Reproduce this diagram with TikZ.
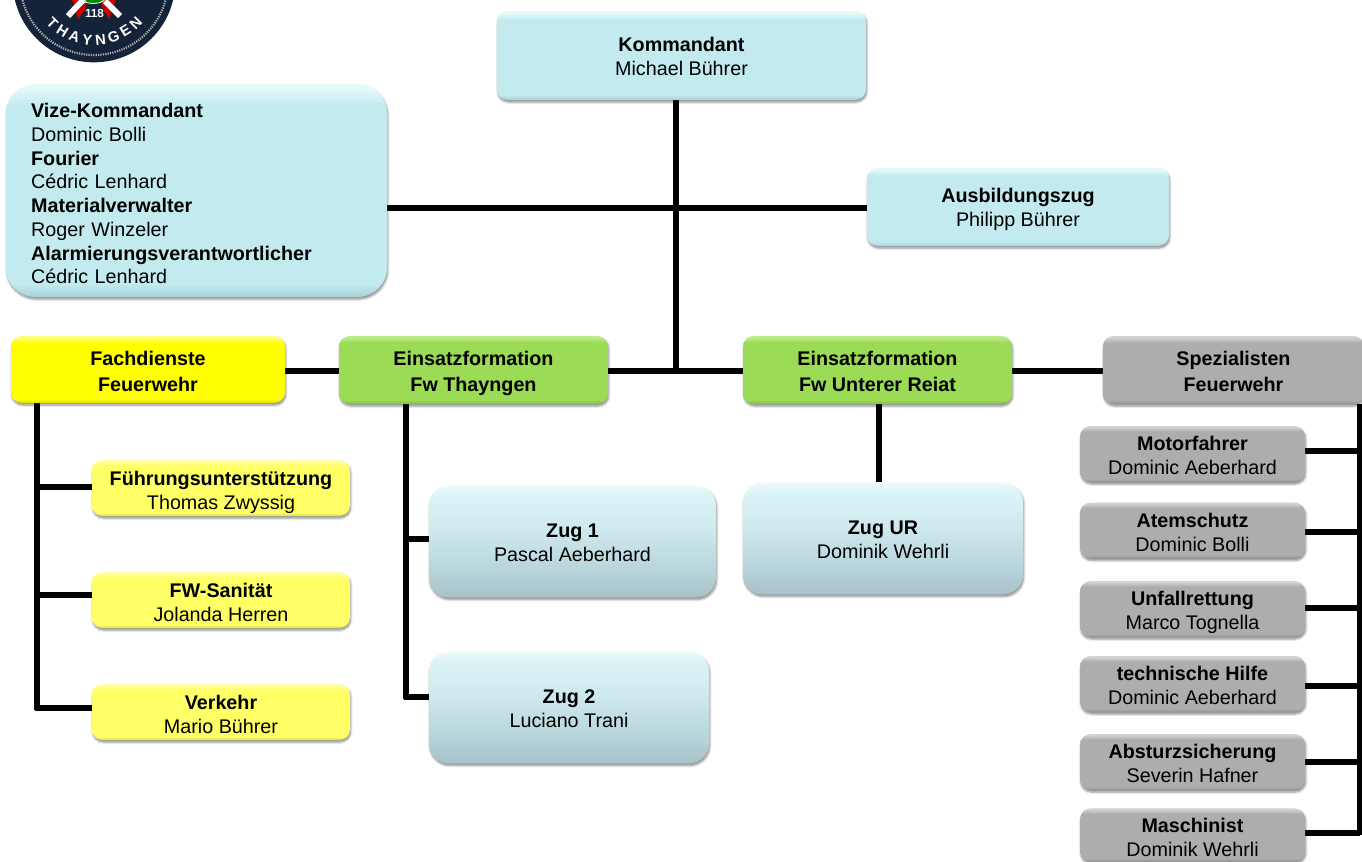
\documentclass[tikz,border=0pt]{standalone}
\usepackage{fontspec}
\setmainfont{Liberation Sans}
\usetikzlibrary{shadows.blur,backgrounds}
\definecolor{teal}{HTML}{C3EBEF}
\definecolor{teallt}{HTML}{E6F9FA}
\definecolor{tealdk}{HTML}{A9CFD4}
\definecolor{yel}{HTML}{FFFF00}
\definecolor{yellt}{HTML}{FFFF80}
\definecolor{yeldk}{HTML}{DADA00}
\definecolor{ylw}{HTML}{FFFF66}
\definecolor{ylwlt}{HTML}{FFFFA8}
\definecolor{ylwdk}{HTML}{DADA55}
\definecolor{grn}{HTML}{9BDB55}
\definecolor{grnlt}{HTML}{BDEB8A}
\definecolor{grndk}{HTML}{82BE45}
\definecolor{gry}{HTML}{ADADAD}
\definecolor{grylt}{HTML}{D2D2D2}
\definecolor{grydk}{HTML}{939393}
\definecolor{logodark}{HTML}{15233A}
\definecolor{zuga}{HTML}{A6C2C8}
\definecolor{zugb}{HTML}{B6D3D9}
\definecolor{zugc}{HTML}{CDE9ED}
\definecolor{zugd}{HTML}{DCF4F7}
\definecolor{zuge}{HTML}{EEFBFC}
\newcommand{\mkglossy}[4]{\pgfdeclareverticalshading{#1}{100bp}{color(0bp)=(#4); color(25bp)=(#4); color(28bp)=(#2); color(70bp)=(#2); color(74bp)=(#3); color(75bp)=(#3); color(100bp)=(#3)}}
\mkglossy{gteal}{teal}{teallt}{tealdk}
\mkglossy{gyel}{yel}{yellt}{yeldk}
\mkglossy{gylw}{ylw}{ylwlt}{ylwdk}
\mkglossy{ggrn}{grn}{grnlt}{grndk}
\mkglossy{ggry}{gry}{grylt}{grydk}
\pgfdeclareverticalshading{gzug}{100bp}{color(0bp)=(zuga); color(25bp)=(zuga); color(36bp)=(zugb); color(55bp)=(zugc); color(71bp)=(zugd); color(75bp)=(zuge); color(100bp)=(zuge)}
% pushes the text of a node down by #1 pt, the box stays where it is
\newcommand{\dn}[1]{\rule{0pt}{\dimexpr 11pt+#1pt*2\relax}}
\tikzset{
  box/.style={rectangle,rounded corners=8pt,inner sep=0pt,align=center,text=black,
    font=\fontsize{14.8}{18}\selectfont,
    blur shadow={shadow xshift=0.6pt,shadow yshift=-1.6pt,shadow blur steps=5,shadow blur radius=1.6pt,shadow opacity=45}},
  tealbox/.style={box,shading=gteal},
  yelbox/.style={box,shading=gyel,font=\fontsize{14.8}{19.5}\selectfont},
  ylwbox/.style={box,shading=gylw},
  grnbox/.style={box,shading=ggrn,font=\fontsize{14.8}{19.5}\selectfont},
  grybox/.style={box,shading=ggry},
  zugbox/.style={box,shading=gzug,rounded corners=15pt},
  wire/.style={line width=4.2pt,black},
  logoletter/.style={text=white,inner sep=0pt,font=\bfseries\fontsize{11}{12}\selectfont},
}
\begin{document}
\begin{tikzpicture}[x=0.75pt,y=-0.75pt]
\useasboundingbox (0,0) rectangle (1362,861);
% logo
\begin{scope}
\clip (0,0) rectangle (1362,861);
\fill[logodark] (94,-19) circle [radius=61pt];
\draw[gray!60,line width=1.6pt,dash pattern=on 0.9pt off 0.9pt] (94,-19) circle [radius=55.5pt];
\fill[red!80!black] (72,0) -- (75,10) -- (78,19) -- (84,11) -- (88,0) -- cycle;
\fill[red!80!black] (116,0) -- (112,10) -- (109,19) -- (104,11) -- (100,0) -- cycle;
\draw[white,line width=0.6pt,fill=green!55!black] (93,-3) ellipse [x radius=13,y radius=6.5];
\draw[white,line width=4.4pt] (68,16) -- (84,-1);
\draw[white,line width=4.4pt] (120,16) -- (105,1);
\node[text=white,font=\bfseries\fontsize{8.8}{10}\selectfont,inner sep=0pt] (logonum) at (94.5,13) {118};
\foreach \i/\c in {0/T,1/H,2/A,3/Y,4/N,5/G,6/E,7/N}{
  \pgfmathsetmacro{\ang}{(\i-3.5)*12.86}
  \node[logoletter,rotate=\ang] (logo\i) at ({94+59*sin(\ang)},{-19+59*cos(\ang)}) {\c};
}
\end{scope}
% nodes
\node[tealbox,minimum width=276.75pt,minimum height=66.75pt] (kom) at (681.5,55.5) {\dn{0.75}\textbf{Kommandant}\\Michael Bührer};
\node[tealbox,rounded corners=22pt,minimum width=285.75pt,minimum height=159.75pt,
  align=left,text width=248pt,font=\fontsize{14.8}{17.8}\selectfont] (vize) at (196.5,190.5)
  {\dn{2.2}\textbf{Vize-Kommandant}\\Dominic Bolli\\\textbf{Fourier}\\Cédric Lenhard\\\textbf{Materialverwalter}\\Roger Winzeler\\\textbf{Alarmierungsverantwortlicher}\\Cédric Lenhard};
\node[tealbox,minimum width=226.5pt,minimum height=58.5pt] (aus) at (1018,207) {\dn{1.8}\textbf{Ausbildungszug}\\Philipp Bührer};
\node[yelbox,minimum width=205.5pt,minimum height=50.25pt] (fach) at (148,369.5) {\dn{1.5}\textbf{Fachdienste}\\\textbf{Feuerwehr}};
\node[grnbox,minimum width=201.75pt,minimum height=51pt] (thay) at (473.5,370) {\dn{2.2}\textbf{Einsatzformation}\\\textbf{Fw Thayngen}};
\node[grnbox,minimum width=201.75pt,minimum height=51pt] (ur) at (877.5,370) {\dn{0.75}\textbf{Einsatzformation}\\\textbf{Fw Unterer Reiat}};
\node[grybox,font=\fontsize{14.8}{19.5}\selectfont,minimum width=196pt,minimum height=51pt] (spez) at (1233.5,370) {\dn{0.75}\textbf{Spezialisten}\\\textbf{Feuerwehr}};
\node[ylwbox,minimum width=193.5pt,minimum height=42pt] (fu) at (221,488) {\dn{3}\textbf{Führungsunterstützung}\\Thomas Zwyssig};
\node[ylwbox,minimum width=193.5pt,minimum height=42pt] (san) at (221,600) {\dn{1.5}\textbf{FW-Sanität}\\Jolanda Herren};
\node[ylwbox,minimum width=193.5pt,minimum height=42pt] (verk) at (221,712) {\dn{1.5}\textbf{Verkehr}\\Mario Bührer};
\node[zugbox,minimum width=215.25pt,minimum height=84pt] (z1) at (572.5,541.5) {\dn{0.75}\textbf{Zug 1}\\Pascal Aeberhard};
\node[zugbox,minimum width=210pt,minimum height=84pt] (z2) at (569,707.5) {\dn{0.75}\textbf{Zug 2}\\Luciano Trani};
\node[zugbox,minimum width=210pt,minimum height=84pt] (zur) at (883,538.5) {\dn{0.75}\textbf{Zug UR}\\Dominik Wehrli};
\node[grybox,minimum width=168.75pt,minimum height=42pt] (s1) at (1192.5,454) {\dn{0.75}\textbf{Motorfahrer}\\Dominic Aeberhard};
\node[grybox,minimum width=168.75pt,minimum height=42pt] (s2) at (1192.5,530.5) {\dn{1.5}\textbf{Atemschutz}\\Dominic Bolli};
\node[grybox,minimum width=168.75pt,minimum height=42pt] (s3) at (1192.5,609) {\dn{2.2}\textbf{Unfallrettung}\\Marco Tognella};
\node[grybox,minimum width=168.75pt,minimum height=42pt] (s4) at (1192.5,684) {\dn{0.75}\textbf{technische Hilfe}\\Dominic Aeberhard};
\node[grybox,minimum width=168.75pt,minimum height=42pt] (s5) at (1192.5,762) {\dn{0.75}\textbf{Absturzsicherung}\\Severin Hafner};
\node[grybox,minimum width=168.75pt,minimum height=40pt] (s6) at (1192.5,835) {\dn{1.5}\textbf{Maschinist}\\Dominik Wehrli};
% junctions
\coordinate (jf) at (37,403);
\coordinate (jt) at (406,404);
\coordinate (ju) at (879,404);
\coordinate (js) at (1360,404);
\coordinate (jk) at (676,100);
\begin{scope}[on background layer]
\draw[wire] (jk) -- (676,372);
\draw[wire] (vize.east |- 0,208) -- (aus.west |- 0,208);
\draw[wire] (fach.east |- 0,371) -- (thay.west |- 0,371);
\draw[wire] (thay.east |- 0,371) -- (ur.west |- 0,371);
\draw[wire] (ur.east |- 0,371) -- (spez.west |- 0,371);
\draw[wire] (jf) -- (37,710);
\draw[wire] (37,487) -- (fu.west |- 0,487);
\draw[wire] (37,595) -- (san.west |- 0,595);
\draw[wire] (35,708) -- (verk.west |- 0,708);
\draw[wire] (jt) -- (406,699);
\draw[wire] (404,539) -- (z1.west |- 0,539);
\draw[wire] (404,697) -- (z2.west |- 0,697);
\draw[wire] (ju) -- (zur.north -| ju);
\draw[wire] (js) -- (1360,835);
\draw[wire] (s1.east |- 0,451) -- (1360,451);
\draw[wire] (s2.east |- 0,532) -- (1360,532);
\draw[wire] (s3.east |- 0,608) -- (1360,608);
\draw[wire] (s4.east |- 0,686) -- (1360,686);
\draw[wire] (s5.east |- 0,762) -- (1360,762);
\draw[wire] (s6.east |- 0,833) -- (1360,833);
\end{scope}
\end{tikzpicture}
\end{document}
